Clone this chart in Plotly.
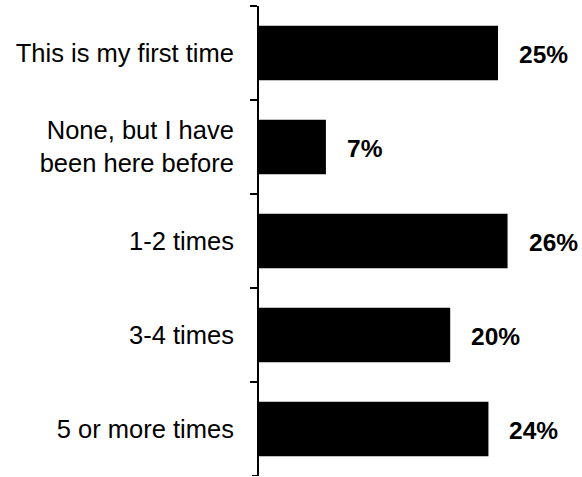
import plotly.graph_objects as go

categories = [
    "This is my first time",
    "None, but I have<br>been here before",
    "1-2 times",
    "3-4 times",
    "5 or more times",
]
values = [25, 7, 26, 20, 24]
value_labels = [f"{v}%" for v in values]

FONT = "Liberation Sans, Arial, sans-serif"

fig = go.Figure(
    go.Bar(
        x=values,
        y=categories,
        orientation="h",
        marker=dict(color="black", line=dict(width=0)),
        hoverinfo="skip",
    )
)

# Percentage labels to the right of each bar
for cat, v, lab in zip(categories, values, value_labels):
    fig.add_annotation(
        x=v, y=cat, text=f"<b>{lab}</b>", showarrow=False,
        xanchor="left", yanchor="middle", xshift=19, yshift=-1,
        font=dict(family=FONT, size=24.5, color="black"),
    )

# Tick stubs at the two outer ends of the category axis
n = len(categories)
for yb in (-0.5, n - 0.5):
    fig.add_shape(
        type="line", xref="paper", yref="y",
        xsizemode="pixel", xanchor=0, x0=-7, x1=0,
        y0=yb, y1=yb,
        line=dict(color="black", width=2),
    )

fig.update_layout(
    width=582, height=477,
    margin=dict(l=259, r=10, t=6, b=1),
    paper_bgcolor="white", plot_bgcolor="white",
    bargap=0.42,
    showlegend=False,
    font=dict(family=FONT, size=25.5, color="black"),
    xaxis=dict(range=[0, 313 / 9.56], visible=False, fixedrange=True),
    yaxis=dict(
        type="category",
        categoryorder="array", categoryarray=categories,
        range=[n - 0.5, -0.5],
        showline=True, linecolor="black", linewidth=2,
        ticks="outside", ticklen=7, tickwidth=2, tickcolor="black",
        tickson="boundaries",
        ticklabelstandoff=18,
        showgrid=False, zeroline=False,
        tickfont=dict(family=FONT, size=25.5, color="black"),
    ),
)

fig.write_html("out.html")
